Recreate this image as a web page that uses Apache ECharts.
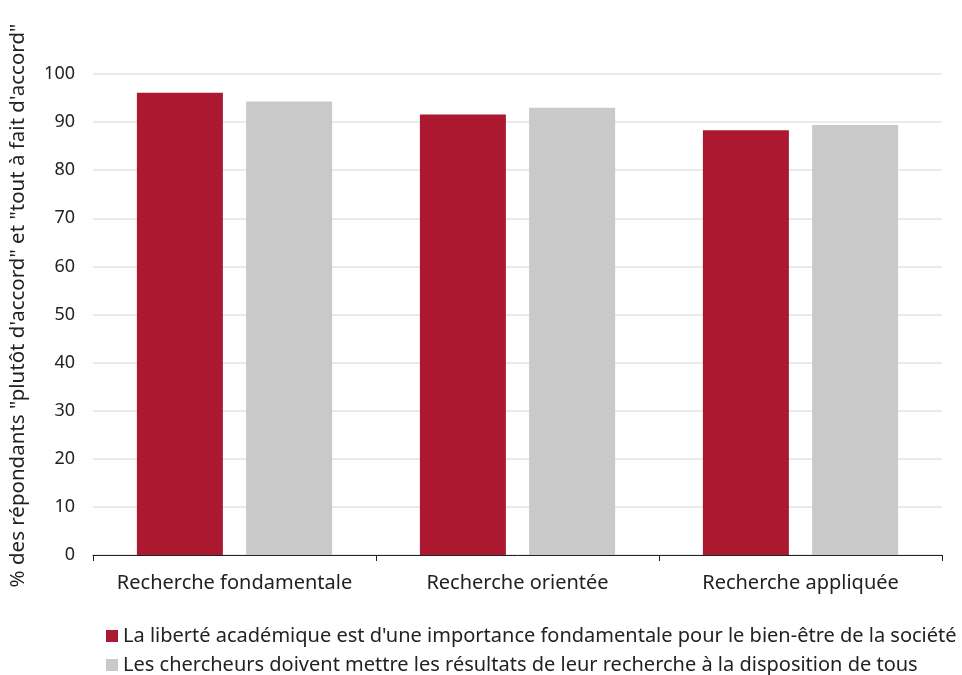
<!DOCTYPE html>
<html><head><meta charset="utf-8">
<script src="https://cdn.jsdelivr.net/npm/echarts@6/dist/echarts.min.js"></script>
<style>html,body{margin:0;padding:0;background:#fff}#c{width:962px;height:675px}</style>
</head><body><div id="c"></div>
<script>
var categories = ["Recherche fondamentale", "Recherche orientée", "Recherche appliquée"];
var seriesNames = ["La liberté académique est d'une importance fondamentale pour le bien-être de la société",
  "Les chercheurs doivent mettre les résultats de leur recherche à la disposition de tous"];
var liberte = [96.1, 91.6, 88.3];
var disposition = [94.3, 93.0, 89.4];
var yTicks = [0, 10, 20, 30, 40, 50, 60, 70, 80, 90, 100];
var yAxisName = '% des répondants "plutôt d\'accord" et "tout à fait d\'accord"';

var FONT = 'Noto Sans';
var chart = echarts.init(document.getElementById('c'));
chart.setOption({
  animation: false,
  textStyle: {fontFamily: FONT},
  grid: {left: 93, right: 20, top: 74, bottom: 120, outerBoundsMode: 'none'},
  legend: {
    orient: 'vertical', left: 106, top: 626, width: 900, height: 60,
    icon: 'rect', itemWidth: 12, itemHeight: 12, itemGap: 9, padding: 0,
    textStyle: {fontFamily: FONT, fontSize: 20, color: '#222'},
    data: seriesNames
  },
  xAxis: {
    type: 'category', data: categories,
    axisLine: {lineStyle: {color: '#222'}},
    axisTick: {show: true, length: 6, lineStyle: {color: '#222'}},
    axisLabel: {fontFamily: FONT, fontSize: 20, color: '#222', margin: 18, interval: 0}
  },
  yAxis: {
    type: 'value', min: yTicks[0], max: yTicks[yTicks.length - 1], interval: 10,
    name: yAxisName, nameLocation: 'middle', nameGap: 64, nameRotate: 90,
    nameTextStyle: {fontFamily: FONT, fontSize: 20.5, color: '#222', padding: [0, 0, 0, 18]},
    axisLine: {show: false}, axisTick: {show: false},
    axisLabel: {fontFamily: FONT, fontSize: 18, color: '#222', margin: 18},
    splitLine: {lineStyle: {color: '#e3e3e3', width: 1.5}}
  },
  series: [
    {name: seriesNames[0], type: 'bar', data: liberte, barWidth: 86, barGap: '27%', itemStyle: {color: '#ab1830'}},
    {name: seriesNames[1], type: 'bar', data: disposition, barWidth: 86, itemStyle: {color: '#c9c9c9'}}
  ]
});
</script></body></html>
